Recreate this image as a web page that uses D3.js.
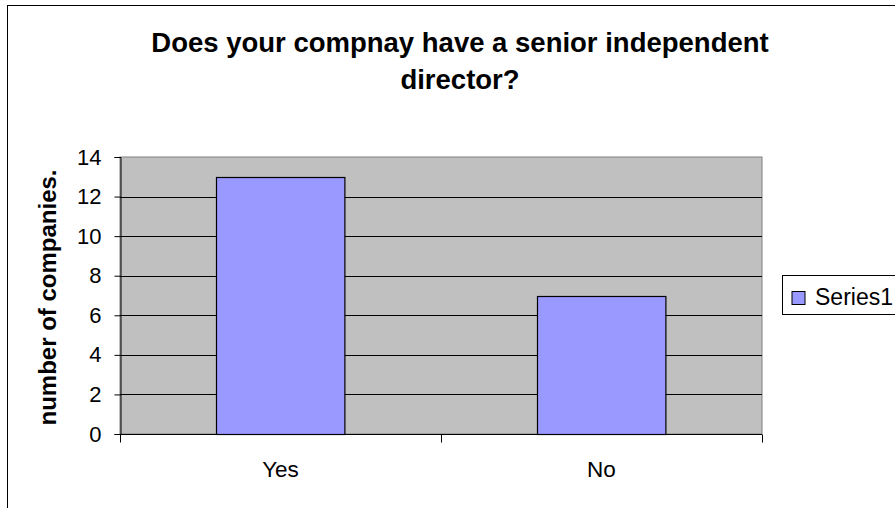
<!DOCTYPE html>
<html>
<head>
<meta charset="utf-8">
<script src="https://cdn.jsdelivr.net/npm/d3@7"></script>
<style>
  body { margin: 0; background: #fff; }
  text { font-family: "Liberation Sans", Arial, sans-serif; }
</style>
</head>
<body>
<div id="chart"></div>
<script>
// chart data
var categories = ["Yes", "No"];
var values = [13, 7];
var yTicks = [0, 2, 4, 6, 8, 10, 12, 14];
var seriesName = "Series1";
var titleLines = ["Does your compnay have a senior independent", "director?"];
var yLabel = "number of companies.";

var svgWidth = 895;
var svgHeight = 508;

// plot area box
var plot = { left: 120, top: 157, right: 762, bottom: 434 };
var width = plot.right - plot.left;
var height = plot.bottom - plot.top;

var svg = d3.select("#chart")
  .append("svg")
  .attr("width", svgWidth)
  .attr("height", svgHeight);

// outer chart border (right/bottom run off the picture)
svg.append("rect")
  .attr("x", 7.5)
  .attr("y", 5.5)
  .attr("width", 900)
  .attr("height", 520)
  .attr("fill", "#fff")
  .attr("stroke", "#000")
  .attr("stroke-width", 1);

// title
svg.append("text")
  .attr("x", 460)
  .attr("y", 52)
  .attr("text-anchor", "middle")
  .attr("font-size", "27.5px")
  .attr("font-weight", "bold")
  .selectAll("tspan")
  .data(titleLines)
  .enter()
  .append("tspan")
  .attr("x", 460)
  .attr("dy", (d, i) => i === 0 ? 0 : 37)
  .text(d => d);

var chartGroup = svg.append("g")
  .attr("transform", `translate(${plot.left}, ${plot.top})`);

var xScale = d3.scaleBand()
  .domain(categories)
  .range([0, width])
  .paddingInner(0.6)
  .paddingOuter(0.3);

var yScale = d3.scaleLinear()
  .domain([0, 14])
  .range([height, 0]);

// plot background
chartGroup.append("rect")
  .attr("x", 0)
  .attr("y", 0)
  .attr("width", width)
  .attr("height", height)
  .attr("fill", "#c0c0c0")
  .attr("stroke", "#808080")
  .attr("stroke-width", 1);

// gridlines
chartGroup.selectAll(".grid")
  .data(yTicks.filter(d => d > 0 && d < 14))
  .enter()
  .append("line")
  .attr("x1", 0)
  .attr("x2", width)
  .attr("y1", d => Math.round(yScale(d)) + 0.5)
  .attr("y2", d => Math.round(yScale(d)) + 0.5)
  .attr("stroke", "#000")
  .attr("stroke-width", 1);

// bars
chartGroup.selectAll(".bar")
  .data(values)
  .enter()
  .append("rect")
  .attr("x", (d, i) => Math.round(xScale(categories[i])) + 0.5)
  .attr("y", d => Math.round(yScale(d)) + 0.5)
  .attr("width", xScale.bandwidth())
  .attr("height", d => Math.round(yScale(0)) - Math.round(yScale(d)))
  .attr("fill", "#9999ff")
  .attr("stroke", "#000")
  .attr("stroke-width", 1.2);

// y axis
var leftAxis = d3.axisLeft(yScale)
  .tickValues(yTicks)
  .tickSize(6)
  .tickPadding(13);

var yAxis = chartGroup.append("g")
  .attr("transform", "translate(0.5, 0)")
  .call(leftAxis);

yAxis.select(".domain").attr("stroke", "#000");
yAxis.selectAll(".tick line").attr("stroke", "#000");
yAxis.selectAll("text")
  .attr("font-size", "22px")
  .attr("font-family", "Liberation Sans, Arial, sans-serif")
  .attr("fill", "#000");

// x axis, with ticks between the categories
var xEdges = d3.scaleLinear().domain([0, categories.length]).range([0, width]);
var xAxisG = chartGroup.append("g")
  .attr("transform", `translate(0, ${height + 0.5})`);

xAxisG.append("line")
  .attr("x1", 0)
  .attr("x2", width)
  .attr("stroke", "#000");

xAxisG.selectAll(".xtick")
  .data(d3.range(categories.length + 1))
  .enter()
  .append("line")
  .attr("x1", d => Math.round(xEdges(d)) + 0.5)
  .attr("x2", d => Math.round(xEdges(d)) + 0.5)
  .attr("y1", 0)
  .attr("y2", 8)
  .attr("stroke", "#000");

xAxisG.selectAll(".xlabel")
  .data(categories)
  .enter()
  .append("text")
  .attr("x", d => xScale(d) + xScale.bandwidth() / 2)
  .attr("y", 42)
  .attr("text-anchor", "middle")
  .attr("font-size", "22.5px")
  .text(d => d);

// y axis title
svg.append("text")
  .attr("transform", `translate(56, 297.5) rotate(-90)`)
  .attr("text-anchor", "middle")
  .attr("font-size", "24px")
  .attr("font-weight", "bold")
  .text(yLabel);

// legend
var legend = svg.append("g")
  .attr("transform", "translate(782.5, 275.5)");

legend.append("rect")
  .attr("width", 130)
  .attr("height", 39)
  .attr("fill", "#fff")
  .attr("stroke", "#000");

legend.append("rect")
  .attr("x", 9.5)
  .attr("y", 16)
  .attr("width", 13)
  .attr("height", 13)
  .attr("fill", "#9999ff")
  .attr("stroke", "#000");

legend.append("text")
  .attr("x", 32.5)
  .attr("y", 29)
  .attr("font-size", "23px")
  .text(seriesName);
</script>
</body>
</html>
